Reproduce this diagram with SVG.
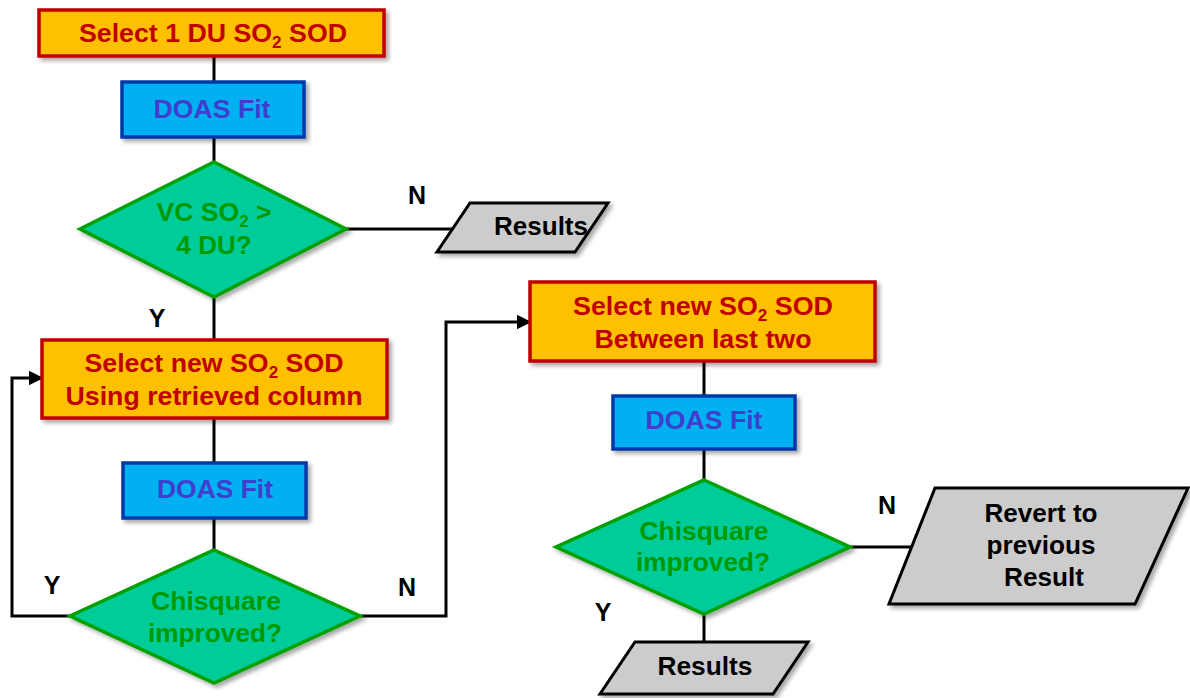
<svg xmlns="http://www.w3.org/2000/svg" width="1190" height="698" viewBox="0 0 1190 698">
<defs>
<filter id="sh" x="-10%" y="-10%" width="130%" height="130%">
<feDropShadow dx="3" dy="3" stdDeviation="2" flood-color="#000" flood-opacity="0.35"/>
</filter>
<marker id="ar" viewBox="0 0 10 10" refX="9" refY="5" markerWidth="5" markerHeight="5" orient="auto" markerUnits="strokeWidth">
<path d="M0,0 L10,5 L0,10 z" fill="#000"/>
</marker>
<style>
text{font-family:"Liberation Sans",Arial,sans-serif;font-weight:bold;font-size:25px;text-anchor:middle}
.sel{fill:#FFC000;stroke:#C00000;stroke-width:3.5}
.sel-t{fill:#C00000}
.doas{fill:#00B0F0;stroke:#0038A8;stroke-width:3.5}
.doas-t{fill:#3F3FCF}
.dec{fill:#00CC99;stroke:#00A000;stroke-width:3.5}
.dec-t{fill:#009900}
.io{fill:#CCCCCC;stroke:#000;stroke-width:3}
.io-t{fill:#000}
.lbl{fill:#000}
.con{fill:none;stroke:#000;stroke-width:3}
.sub{font-size:16px}
</style>
</defs>
<g id="connectors">
<path class="con" d="M214,56 V82"/>
<path class="con" d="M214,137 V162"/>
<path class="con" d="M346,229 H456"/>
<path class="con" d="M214,297 V340"/>
<path class="con" d="M214,418 V463"/>
<path class="con" d="M214,518 V550"/>
<path class="con" d="M70,616 H12 V378 H42" marker-end="url(#ar)"/>
<path class="con" d="M360,616 H446 V322 H530" marker-end="url(#ar)"/>
<path class="con" d="M704,361 V396"/>
<path class="con" d="M704,449 V480"/>
<path class="con" d="M850,547 H916"/>
<path class="con" d="M704,614 V642"/>
<text class="lbl" x="417" y="204">N</text>
<text class="lbl" x="157" y="327">Y</text>
<text class="lbl" x="52" y="594">Y</text>
<text class="lbl" x="407" y="596">N</text>
<text class="lbl" x="887" y="514">N</text>
<text class="lbl" x="603" y="621">Y</text>
</g>
<g id="select1">
<rect class="sel" x="39" y="10" width="345" height="46" filter="url(#sh)"/>
<text class="sel-t" x="213" y="42" textLength="268" lengthAdjust="spacingAndGlyphs">Select 1 DU SO<tspan class="sub" dy="6">2</tspan><tspan dy="-6"> SOD</tspan></text>
</g>
<g id="doas1">
<rect class="doas" x="122" y="82" width="182" height="55" filter="url(#sh)"/>
<text class="doas-t" x="212" y="118" textLength="117" lengthAdjust="spacingAndGlyphs">DOAS Fit</text>
</g>
<g id="decision1">
<polygon class="dec" points="214,162 346,229 214,297 80,229" filter="url(#sh)"/>
<text class="dec-t" x="214" y="221" textLength="115" lengthAdjust="spacingAndGlyphs">VC SO<tspan class="sub" dy="6">2</tspan><tspan dy="-6"> &gt;</tspan></text>
<text class="dec-t" x="214" y="254" textLength="75" lengthAdjust="spacingAndGlyphs">4 DU?</text>
</g>
<g id="results1">
<polygon class="io" points="470,203 608,203 575,252 437,252" filter="url(#sh)"/>
<text class="io-t" x="541" y="235" textLength="94" lengthAdjust="spacingAndGlyphs">Results</text>
</g>
<g id="select2">
<rect class="sel" x="42" y="340" width="345" height="78" filter="url(#sh)"/>
<text class="sel-t" x="214" y="372" textLength="259" lengthAdjust="spacingAndGlyphs">Select new SO<tspan class="sub" dy="6">2</tspan><tspan dy="-6"> SOD</tspan></text>
<text class="sel-t" x="214" y="405" textLength="297" lengthAdjust="spacingAndGlyphs">Using retrieved column</text>
</g>
<g id="doas2">
<rect class="doas" x="123" y="463" width="183" height="55" filter="url(#sh)"/>
<text class="doas-t" x="215" y="498" textLength="116" lengthAdjust="spacingAndGlyphs">DOAS Fit</text>
</g>
<g id="decision2">
<polygon class="dec" points="214,550 360,616 214,683 70,616" filter="url(#sh)"/>
<text class="dec-t" x="216" y="610" textLength="130" lengthAdjust="spacingAndGlyphs">Chisquare</text>
<text class="dec-t" x="215" y="642" textLength="134" lengthAdjust="spacingAndGlyphs">improved?</text>
</g>
<g id="select3">
<rect class="sel" x="530" y="282" width="345" height="79" filter="url(#sh)"/>
<text class="sel-t" x="703" y="315" textLength="260" lengthAdjust="spacingAndGlyphs">Select new SO<tspan class="sub" dy="6">2</tspan><tspan dy="-6"> SOD</tspan></text>
<text class="sel-t" x="703" y="348" textLength="217" lengthAdjust="spacingAndGlyphs">Between last two</text>
</g>
<g id="doas3">
<rect class="doas" x="613" y="396" width="182" height="53" filter="url(#sh)"/>
<text class="doas-t" x="704" y="429" textLength="117" lengthAdjust="spacingAndGlyphs">DOAS Fit</text>
</g>
<g id="decision3">
<polygon class="dec" points="704,480 850,547 704,614 556,547" filter="url(#sh)"/>
<text class="dec-t" x="704" y="540" textLength="129" lengthAdjust="spacingAndGlyphs">Chisquare</text>
<text class="dec-t" x="703" y="571" textLength="134" lengthAdjust="spacingAndGlyphs">improved?</text>
</g>
<g id="revert">
<polygon class="io" points="935,488 1188,488 1135,604 889,604" filter="url(#sh)"/>
<text class="io-t" x="1041" y="522" textLength="113" lengthAdjust="spacingAndGlyphs">Revert to</text>
<text class="io-t" x="1041" y="554" textLength="109" lengthAdjust="spacingAndGlyphs">previous</text>
<text class="io-t" x="1044" y="586" textLength="80" lengthAdjust="spacingAndGlyphs">Result</text>
</g>
<g id="results2">
<polygon class="io" points="635,642 808,642 773,694 600,694" filter="url(#sh)"/>
<text class="io-t" x="705" y="675" textLength="95" lengthAdjust="spacingAndGlyphs">Results</text>
</g>
</svg>
